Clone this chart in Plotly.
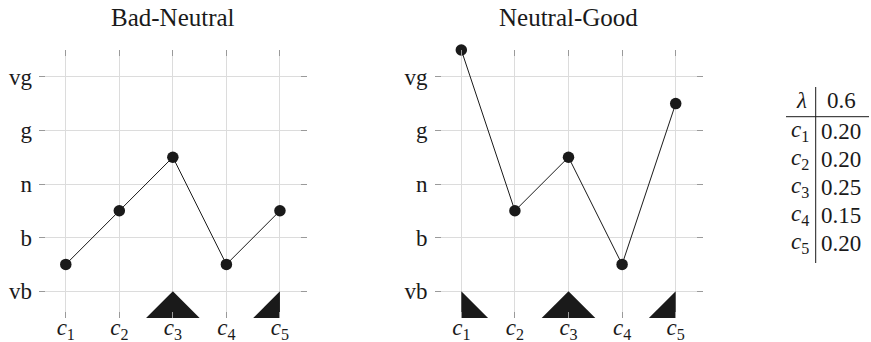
import plotly.graph_objects as go

# Criteria and ordinal scale
criteria = ["c1", "c2", "c3", "c4", "c5"]
criteria_labels = ["<i>c</i><sub>1</sub>", "<i>c</i><sub>2</sub>", "<i>c</i><sub>3</sub>",
                   "<i>c</i><sub>4</sub>", "<i>c</i><sub>5</sub>"]
levels = ["vb", "b", "n", "g", "vg"]

# Profiles (positions on the ordinal scale, vb = 0 ... vg = 4)
bad_neutral = [0.5, 1.5, 2.5, 0.5, 1.5]
neutral_good = [4.5, 1.5, 2.5, 0.5, 3.5]

# Indicator glyph drawn under each criterion
bad_neutral_glyphs = [None, None, "peak", None, "rise"]
neutral_good_glyphs = ["fall", None, "peak", None, "rise"]

# Weight table
lam = 0.6
weights = [0.20, 0.20, 0.25, 0.15, 0.20]

W, H = 871, 342
FONT = "'Liberation Serif', 'DejaVu Serif', serif"
INK = "#1a1a1a"


def px(x):
    return x / W


def py(y):
    return 1 - y / H


panels = [
    ("Bad-Neutral", bad_neutral, bad_neutral_glyphs, (39, 306.7)),
    ("Neutral-Good", neutral_good, neutral_good_glyphs, (434.5, 702.5)),
]
y_dom = [py(318), py(50)]

fig = go.Figure()
annotations = []

for k, (title, values, glyphs, (x0, x1)) in enumerate(panels):
    sfx = "" if k == 0 else str(k + 1)
    xa, ya = "x" + sfx, "y" + sfx

    # indicator triangles below the lowest level
    for i, g in enumerate(glyphs):
        c = i + 1
        if g is None:
            continue
        if g == "peak":
            xs, ys = [c - 0.5, c, c + 0.5], [-0.5, 0, -0.5]
        elif g == "rise":
            xs, ys = [c - 0.5, c, c], [-0.5, 0, -0.5]
        else:
            xs, ys = [c, c, c + 0.5], [0, -0.5, -0.5]
        fig.add_trace(go.Scatter(
            x=xs, y=ys, fill="toself", fillcolor=INK, mode="lines",
            line=dict(width=0, color=INK), xaxis=xa, yaxis=ya,
            showlegend=False, hoverinfo="skip"))

    fig.add_trace(go.Scatter(
        x=list(range(1, len(criteria) + 1)), y=values, mode="lines+markers",
        line=dict(color=INK, width=1),
        marker=dict(size=11.5, color=INK),
        cliponaxis=False, xaxis=xa, yaxis=ya, showlegend=False))

    common = dict(
        showgrid=True, gridcolor="#dcdcdc", gridwidth=1,
        zeroline=False, showline=False, automargin=False,
        ticks="inside", ticklen=6, tickcolor="#9a9a9a", tickwidth=1,
        mirror="ticks",
        tickfont=dict(family=FONT, size=23, color=INK),
    )
    fig.layout["xaxis" + sfx] = dict(
        common, domain=[px(x0), px(x1)], range=[0.5, 5.5],
        tickvals=list(range(1, len(criteria) + 1)), ticktext=criteria_labels,
        anchor=ya, ticklabelstandoff=-7)
    fig.layout["yaxis" + sfx] = dict(
        common, domain=y_dom, range=[-0.5, 4.5],
        tickvals=list(range(len(levels))), ticktext=levels,
        anchor=xa, ticklabelstandoff=6)

    annotations.append(dict(
        text=title, x=px((x0 + x1) / 2), y=py(18), xref="paper", yref="paper",
        xanchor="center", yanchor="middle", showarrow=False,
        font=dict(family=FONT, size=25, color=INK)))

# weight table
col_line_x = 815.7
annotations.append(dict(text="<i>λ</i>", x=px(801), y=py(101), xref="paper", yref="paper",
                        xanchor="center", yanchor="middle", showarrow=False,
                        font=dict(family=FONT, size=23, color=INK)))
annotations.append(dict(text=f"{lam:g}", x=px(841.5), y=py(101), xref="paper", yref="paper",
                        xanchor="center", yanchor="middle", showarrow=False,
                        font=dict(family=FONT, size=23, color=INK)))
for i, (lab, w) in enumerate(zip(criteria_labels, weights)):
    ry = 131 + 28 * i
    annotations.append(dict(text=lab, x=px(811), y=py(ry), xref="paper", yref="paper",
                            xanchor="right", yanchor="middle", showarrow=False,
                            font=dict(family=FONT, size=23, color=INK)))
    annotations.append(dict(text=f"{w:.2f}", x=px(819), y=py(ry), xref="paper", yref="paper",
                            xanchor="left", yanchor="middle", showarrow=False,
                            font=dict(family=FONT, size=23, color=INK)))

shapes = [
    dict(type="line", xref="paper", yref="paper",
         x0=px(col_line_x), x1=px(col_line_x), y0=py(87), y1=py(263),
         line=dict(color=INK, width=1)),
    dict(type="line", xref="paper", yref="paper",
         x0=px(786), x1=px(869), y0=py(116.7), y1=py(116.7),
         line=dict(color=INK, width=1)),
]

fig.update_layout(
    width=W, height=H, margin=dict(l=0, r=0, t=0, b=0),
    paper_bgcolor="white", plot_bgcolor="white",
    annotations=annotations, shapes=shapes,
)

fig.write_html("out.html")
